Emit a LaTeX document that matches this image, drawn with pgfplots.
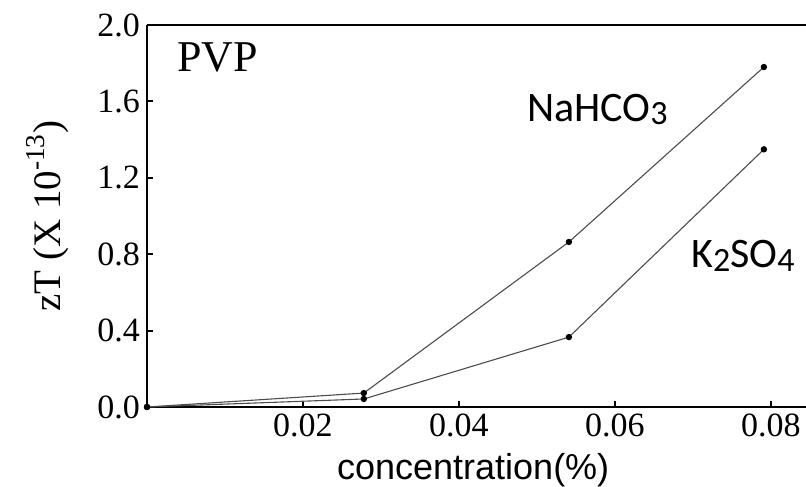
\documentclass[border=0pt]{standalone}
\usepackage{fontspec}
\setmainfont{Liberation Serif}
\newfontfamily\arialf{Liberation Sans}
\newfontfamily\calib{Carlito}
\usepackage{pgfplots}
\pgfplotsset{compat=1.18}
\usetikzlibrary{calc}
\newcommand{\sub}[1]{\raisebox{-1.8pt}{\fontsize{17}{17}\selectfont #1}}
\begin{document}
\begin{tikzpicture}
\begin{axis}[
  name=ax,
  scale only axis,
  width=329.5pt, height=191pt,
  xmin=0, xmax=0.0845, ymin=0, ymax=2,
  axis x line=box, axis y line=left,
  axis line style={-, line width=1.3pt, black},
  xtick={0.02,0.04,0.06,0.08},
  ytick={0,0.4,0.8,1.2,1.6,2.0},
  scaled x ticks=false, scaled y ticks=false,
  xtick pos=bottom, ytick pos=left,
  tick align=inside,
  major tick length=3pt,
  tick style={line width=1pt, black},
  /pgf/number format/assume math mode=true,
  xticklabel style={/pgf/number format/fixed, /pgf/number format/fixed zerofill, /pgf/number format/precision=2},
  yticklabel style={/pgf/number format/fixed, /pgf/number format/fixed zerofill, /pgf/number format/precision=1},
  ticklabel style={font=\fontsize{17}{17}\selectfont},
  clip=false,
  xlabel={concentration(\%)},
  ylabel={zT (X 10\textsuperscript{-13})},
  xlabel style={font=\arialf\fontsize{18}{18}\selectfont, at={(axis description cs:0.495,-0.191)}, anchor=base},
  ylabel style={font=\fontsize{19.5}{19.5}\selectfont, at={(axis description cs:-0.132,0.5)}, anchor=base, rotate=0},
]
\addplot[line width=0.55pt, black!70, mark=*, mark size=1.3pt, mark options={black, fill=black}] coordinates {
(0,0) (0.0278,0.073) (0.0541,0.864) (0.0791,1.78)
};
\addplot[line width=0.55pt, black!70, mark=*, mark size=1.3pt, mark options={black, fill=black}] coordinates {
(0,0) (0.0278,0.042) (0.0541,0.366) (0.0791,1.349)
};
\node[anchor=base west, inner sep=0, font=\fontsize{22}{22}\selectfont] at (axis cs:0.00385,1.754) {PVP};
\node[anchor=base east, inner sep=0, font=\calib\fontsize{21}{21}\selectfont] at (axis cs:0.0668,1.497) {NaHCO\sub{3}};
\node[anchor=base east, inner sep=0, font=\calib\fontsize{21}{21}\selectfont] at (axis cs:0.0831,0.728) {K\sub{2}SO\sub{4}};
\end{axis}
\pgfresetboundingbox
\path[use as bounding box] ($(ax.south west)+(-73.5pt,-39.5pt)$) rectangle ($(ax.north east)+(0pt,12.5pt)$);
\end{tikzpicture}
\end{document}
